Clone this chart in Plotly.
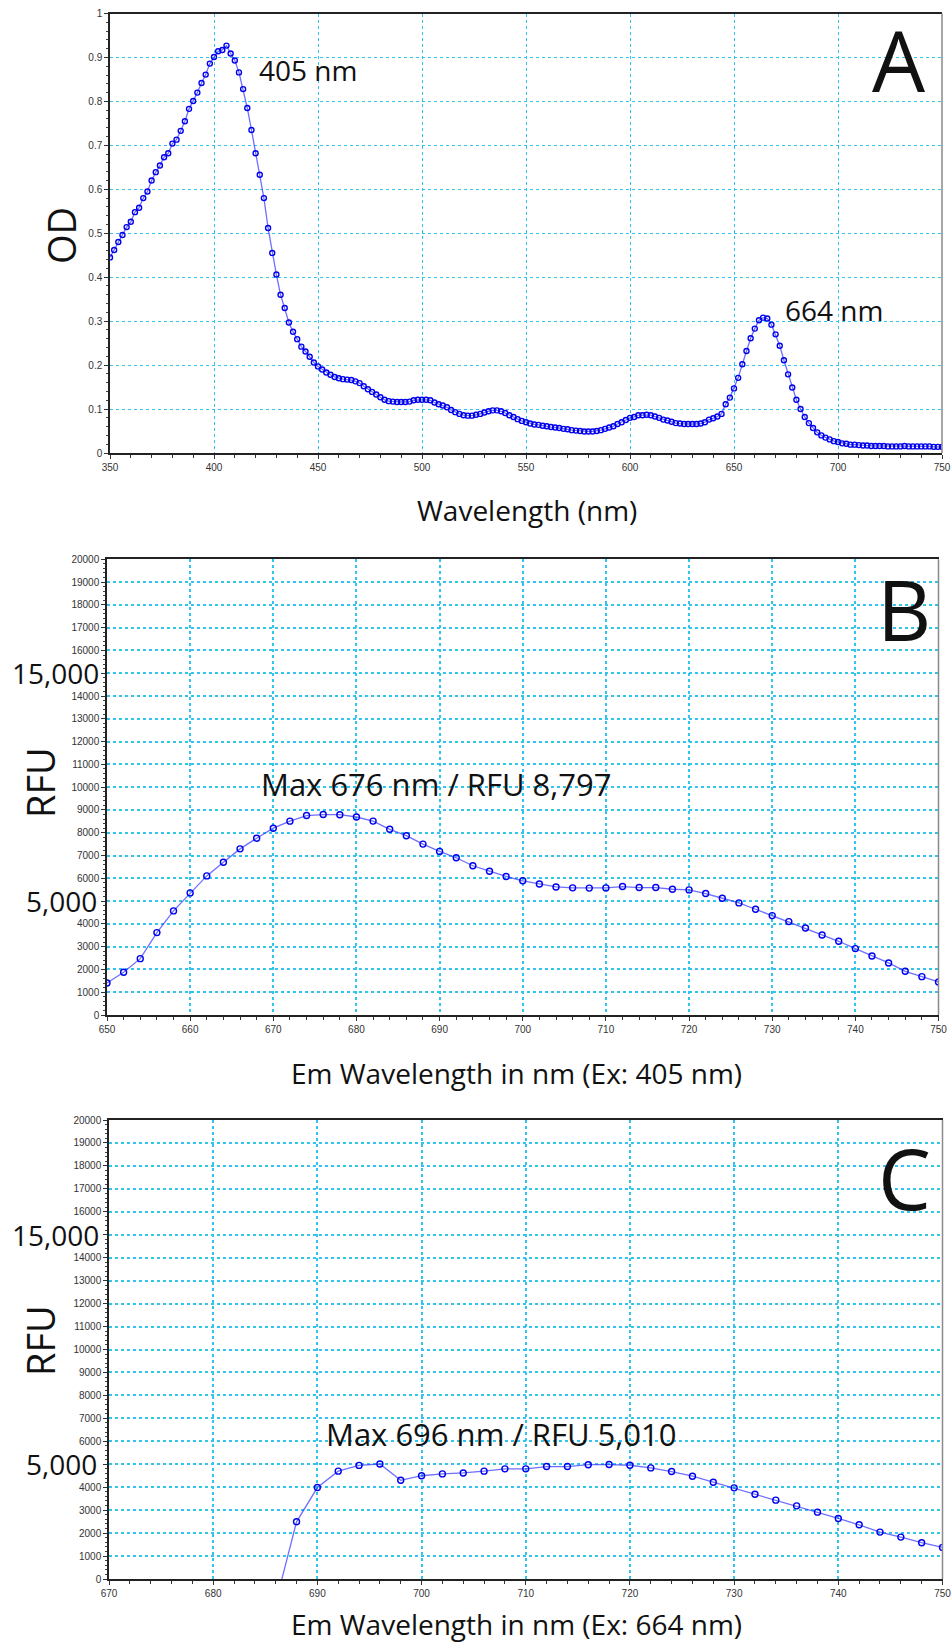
import plotly.graph_objects as go

# ---------------- data ----------------
abs_wavelength = list(range(350, 751, 2))
abs_od = [
    0.445, 0.462, 0.480, 0.496, 0.514, 0.526, 0.548, 0.558, 0.580, 0.595,
    0.620, 0.639, 0.654, 0.673, 0.682, 0.704, 0.713, 0.733, 0.755, 0.783,
    0.801, 0.820, 0.842, 0.861, 0.886, 0.901, 0.914, 0.917, 0.927, 0.909,
    0.893, 0.866, 0.828, 0.785, 0.735, 0.682, 0.633, 0.580, 0.512, 0.455,
    0.406, 0.360, 0.330, 0.297, 0.276, 0.259, 0.242, 0.231, 0.219, 0.206,
    0.197, 0.190, 0.183, 0.178, 0.173, 0.170, 0.168, 0.167, 0.166, 0.163,
    0.159, 0.152, 0.145, 0.139, 0.133, 0.127, 0.121, 0.118, 0.117, 0.116,
    0.116, 0.116, 0.117, 0.120, 0.121, 0.121, 0.121, 0.120, 0.115, 0.111,
    0.108, 0.104, 0.098, 0.093, 0.089, 0.086, 0.085, 0.085, 0.087, 0.089,
    0.092, 0.095, 0.097, 0.097, 0.095, 0.091, 0.086, 0.082, 0.077, 0.073,
    0.070, 0.067, 0.065, 0.064, 0.062, 0.061, 0.059, 0.058, 0.057, 0.055,
    0.054, 0.052, 0.051, 0.050, 0.049, 0.049, 0.049, 0.050, 0.052, 0.055,
    0.058, 0.061, 0.066, 0.070, 0.075, 0.080, 0.082, 0.086, 0.086, 0.087,
    0.086, 0.083, 0.080, 0.076, 0.074, 0.071, 0.068, 0.067, 0.066, 0.066,
    0.066, 0.066, 0.067, 0.070, 0.076, 0.079, 0.083, 0.089, 0.111, 0.126,
    0.147, 0.171, 0.202, 0.232, 0.261, 0.283, 0.302, 0.308, 0.306, 0.292,
    0.270, 0.244, 0.211, 0.179, 0.149, 0.121, 0.100, 0.082, 0.068, 0.057,
    0.047, 0.040, 0.035, 0.031, 0.027, 0.025, 0.022, 0.021, 0.019, 0.019,
    0.018, 0.017, 0.017, 0.016, 0.016, 0.016, 0.016, 0.015, 0.015, 0.015,
    0.015, 0.016, 0.015, 0.015, 0.015, 0.015, 0.015, 0.015, 0.014, 0.014,
    0.014,
]

em405_wavelength = list(range(650, 751, 2))
em405_rfu = [
    1405, 1874, 2474, 3616, 4568, 5359, 6105, 6706, 7291, 7760,
    8199, 8507, 8755, 8797, 8790, 8690, 8510, 8150, 7870, 7500,
    7180, 6900, 6550, 6310, 6080, 5890, 5750, 5620, 5580, 5570,
    5578, 5637, 5593, 5593, 5520, 5490, 5330, 5124, 4919, 4641,
    4363, 4100, 3821, 3514, 3236, 2914, 2591, 2284, 1918, 1684,
    1449,
]

em664_wavelength = list(range(686, 751, 2))
em664_rfu = [
    -1050, 2493, 3985, 4700, 4950, 5010, 4300, 4500, 4580, 4620,
    4700, 4800, 4800, 4900, 4900, 4980, 4986, 4957, 4841, 4681,
    4478, 4217, 3971, 3696, 3435, 3188, 2913, 2638, 2362, 2043,
    1826, 1580, 1377,
]

rfu_ticks = list(range(0, 20001, 1000))
rfu_ticktext = ["" if v in (5000, 15000) else str(v) for v in rfu_ticks]

# ---------------- layout helpers ----------------
W, H = 952, 1644


def px(x):
    return x / W


def py(y):
    return 1 - y / H


LINE = "rgba(50,50,255,0.7)"
MARK = "#0000ee"
GRID = "#33c4ee"
TXT = "Open Sans"
TICKFONT = dict(family="Liberation Sans", size=10, color="#333333")

fig = go.Figure()


def add_series(x, y, xa, ya, msize):
    fig.add_trace(go.Scatter(
        x=x, y=y, xaxis=xa, yaxis=ya, mode="lines+markers",
        line=dict(color=LINE, width=1.3),
        marker=dict(symbol="circle-open", size=msize, color=MARK,
                    line=dict(width=1.4, color=MARK)),
        showlegend=False, hoverinfo="x+y",
    ))


add_series(abs_wavelength, abs_od, "x", "y", 5)
add_series(em405_wavelength, em405_rfu, "x2", "y2", 6)
add_series(em664_wavelength, em664_rfu, "x3", "y3", 6)

panels = [
    # (xaxis name, yaxis name, left, right, top, bottom)
    ("xaxis", "yaxis", 110, 942, 13.5, 453),
    ("xaxis2", "yaxis2", 107, 938.5, 559.3, 1015),
    ("xaxis3", "yaxis3", 109, 942.5, 1120, 1579),
]

x_cfg = [
    dict(range=[350, 750], dtick=50, tick0=350, minor=dict(dtick=10, tick0=350)),
    dict(range=[650, 750], dtick=10, tick0=650, minor=dict(dtick=2, tick0=650)),
    dict(range=[670, 750], dtick=10, tick0=670, minor=dict(dtick=2, tick0=670)),
]
y_cfg = [
    dict(range=[0, 1], dtick=0.1, tick0=0, minor=dict(dtick=0.02, tick0=0)),
    dict(range=[0, 20000], tickmode="array", tickvals=rfu_ticks, ticktext=rfu_ticktext,
         minor=dict(tickmode="linear", dtick=200, tick0=0)),
    dict(range=[0, 20000], tickmode="array", tickvals=rfu_ticks, ticktext=rfu_ticktext,
         minor=dict(tickmode="linear", dtick=200, tick0=0)),
]
gridw = [1, 1.5, 1.5]

layout_axes = {}
for i, (xa, ya, l, r, t, b) in enumerate(panels):
    xc = dict(x_cfg[i])
    xminor = xc.pop("minor")
    xminor.update(ticks="outside", ticklen=3, tickcolor="#333", showgrid=False)
    layout_axes[xa] = dict(
        domain=[px(l), px(r)], anchor=ya.replace("axis", ""),
        showline=True, linecolor="#222", linewidth=1.5, mirror=True,
        ticks="outside", ticklen=4, tickcolor="#333",
        showgrid=True, gridcolor=GRID, gridwidth=gridw[i], griddash="dot",
        tickfont=TICKFONT, zeroline=False, minor=xminor, automargin=False, **xc,
    )
    yc = dict(y_cfg[i])
    yminor = yc.pop("minor")
    yminor.update(ticks="outside", ticklen=2, tickcolor="#444", showgrid=False)
    layout_axes[ya] = dict(
        domain=[py(b), py(t)], anchor=xa.replace("axis", ""),
        showline=True, linecolor="#222", linewidth=1.5, mirror=False,
        ticks="outside", ticklen=4, tickcolor="#333",
        showgrid=True, gridcolor=GRID, gridwidth=gridw[i], griddash="dot",
        tickfont=TICKFONT, zeroline=False, minor=yminor, automargin=False, **yc,
    )

shapes = []
for (xa, ya, l, r, t, b) in panels:
    shapes.append(dict(type="line", xref="paper", yref="paper",
                       x0=px(r), x1=px(r), y0=py(b), y1=py(t),
                       line=dict(color="#8a8a8a", width=1.5)))

annotations = []


def txt(text, x, y, size, xanchor="center", yanchor="middle", angle=0):
    annotations.append(dict(
        text=text, x=px(x), y=py(y), xref="paper", yref="paper",
        showarrow=False, xanchor=xanchor, yanchor=yanchor, textangle=angle,
        font=dict(family=TXT, size=size, color="#111111"),
    ))


# panel letters
txt("A", 899, 60, 84)
txt("B", 904, 608, 84)
txt("C", 904, 1177, 84)
# axis titles
txt("OD", 61, 235, 38, angle=-90)
txt("RFU", 40, 783, 38, angle=-90)
txt("RFU", 40, 1341, 38, angle=-90)
txt("Wavelength (nm)", 527, 510, 28)
txt("Em Wavelength in nm (Ex: 405 nm)", 516, 1073, 28)
txt("Em Wavelength in nm (Ex: 664 nm)", 516, 1624, 28)
# peak labels
txt("405 nm", 257, 70, 28, xanchor="left")
txt("664 nm", 783, 310, 28, xanchor="left")
txt("Max 676 nm / RFU 8,797", 259, 784, 31, xanchor="left")
txt("Max 696 nm / RFU 5,010", 324, 1434, 31, xanchor="left")
# big RFU tick labels
txt("15,000", 101, 673, 28, xanchor="right")
txt("5,000", 99, 901, 28, xanchor="right")
txt("15,000", 101, 1235, 28, xanchor="right")
txt("5,000", 99, 1464, 28, xanchor="right")

fig.update_layout(
    width=W, height=H, margin=dict(l=0, r=0, t=0, b=0, autoexpand=False),
    paper_bgcolor="white", plot_bgcolor="white",
    shapes=shapes, annotations=annotations, showlegend=False,
    **layout_axes,
)

fig.write_html(
    "out.html",
    config={"displayModeBar": False},
    post_script="document.body.style.margin='0';document.body.style.overflow='hidden';",
)
